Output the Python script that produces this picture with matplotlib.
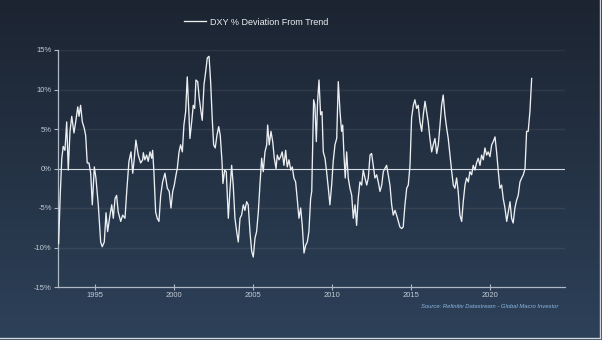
import numpy as np
import matplotlib
matplotlib.use("Agg")
import matplotlib.pyplot as plt
from matplotlib.colors import LinearSegmentedColormap

# DXY % deviation from trend
years = [1992.70, 1992.80, 1992.90, 1992.99, 1993.10, 1993.21, 1993.31, 1993.42, 1993.53, 1993.67,
         1993.78, 1993.91, 1993.99, 1994.09, 1994.20, 1994.32, 1994.41, 1994.51, 1994.62, 1994.73,
         1994.83, 1994.96, 1995.06, 1995.21, 1995.36, 1995.46, 1995.59, 1995.70, 1995.80, 1995.95,
         1996.06, 1996.16, 1996.27, 1996.37, 1996.47, 1996.63, 1996.75, 1996.90, 1997.01, 1997.15,
         1997.28, 1997.39, 1997.49, 1997.59, 1997.74, 1997.89, 1998.02, 1998.06, 1998.16, 1998.27,
         1998.37, 1998.48, 1998.59, 1998.65, 1998.73, 1998.84, 1998.94, 1999.05, 1999.16, 1999.28,
         1999.43, 1999.58, 1999.70, 1999.81, 1999.92, 2000.02, 2000.13, 2000.21, 2000.32, 2000.42,
         2000.53, 2000.63, 2000.74, 2000.84, 2000.95, 2001.01, 2001.12, 2001.22, 2001.31, 2001.39,
         2001.50, 2001.60, 2001.71, 2001.79, 2001.90, 2002.01, 2002.11, 2002.22, 2002.32, 2002.42,
         2002.51, 2002.61, 2002.72, 2002.83, 2002.93, 2003.04, 2003.10, 2003.21, 2003.31, 2003.44,
         2003.54, 2003.65, 2003.75, 2003.86, 2003.97, 2004.07, 2004.18, 2004.28, 2004.39, 2004.49,
         2004.60, 2004.70, 2004.81, 2004.92, 2005.02, 2005.13, 2005.23, 2005.34, 2005.44, 2005.55,
         2005.65, 2005.76, 2005.87, 2005.93, 2006.03, 2006.14, 2006.25, 2006.35, 2006.46, 2006.54,
         2006.65, 2006.75, 2006.85, 2006.96, 2007.07, 2007.17, 2007.28, 2007.39, 2007.49, 2007.59,
         2007.70, 2007.80, 2007.91, 2008.02, 2008.12, 2008.23, 2008.34, 2008.44, 2008.54, 2008.65,
         2008.72, 2008.78, 2008.84, 2008.92, 2009.01, 2009.09, 2009.18, 2009.28, 2009.37, 2009.45,
         2009.56, 2009.66, 2009.77, 2009.87, 2009.98, 2010.08, 2010.19, 2010.30, 2010.40, 2010.51,
         2010.61, 2010.68, 2010.76, 2010.84, 2010.93, 2011.03, 2011.14, 2011.25, 2011.35, 2011.46,
         2011.56, 2011.66, 2011.77, 2011.88, 2011.98, 2012.09, 2012.20, 2012.30, 2012.41, 2012.51,
         2012.61, 2012.72, 2012.83, 2012.93, 2013.04, 2013.15, 2013.25, 2013.35, 2013.46, 2013.56,
         2013.67, 2013.78, 2013.88, 2013.99, 2014.09, 2014.20, 2014.30, 2014.41, 2014.51, 2014.62,
         2014.73, 2014.83, 2014.94, 2015.04, 2015.15, 2015.25, 2015.36, 2015.46, 2015.57, 2015.68,
         2015.78, 2015.89, 2015.99, 2016.09, 2016.20, 2016.31, 2016.41, 2016.52, 2016.63, 2016.73,
         2016.84, 2016.94, 2017.04, 2017.15, 2017.26, 2017.36, 2017.47, 2017.58, 2017.68, 2017.78,
         2017.89, 2017.99, 2018.10, 2018.21, 2018.31, 2018.42, 2018.52, 2018.63, 2018.73, 2018.84,
         2018.94, 2019.05, 2019.15, 2019.26, 2019.37, 2019.47, 2019.58, 2019.68, 2019.79, 2019.89,
         2020.00, 2020.11, 2020.21, 2020.32, 2020.42, 2020.53, 2020.63, 2020.74, 2020.84, 2020.95,
         2021.06, 2021.16, 2021.27, 2021.37, 2021.47, 2021.58, 2021.69, 2021.79, 2021.90, 2022.01,
         2022.11, 2022.22, 2022.32, 2022.42, 2022.53, 2022.64]

deviation = [-9.5, -3.4, 1.3, 2.8, 2.3, 5.9, -0.2, 4.7, 6.6, 4.5,
             5.9, 7.8, 6.6, 8.0, 5.9, 5.1, 4.2, 0.7, 0.7, -0.6,
             -4.6, 0.2, -1.2, -4.6, -9.3, -9.9, -9.3, -5.6, -8.0, -5.9,
             -4.6, -6.3, -3.8, -3.4, -5.5, -6.7, -5.9, -6.3, -2.9, 0.9,
             2.1, -0.6, 1.3, 3.6, 1.7, 0.7, 1.1, 2.0, 1.1, 1.7,
             0.9, 2.1, 1.3, 2.3, -0.4, -5.5, -6.3, -6.7, -3.4, -1.7,
             -0.6, -2.5, -2.9, -5.0, -2.9, -2.1, -0.8, 0.0, 2.1, 3.0,
             2.1, 5.5, 7.2, 11.6, 6.8, 3.8, 5.9, 8.0, 7.6, 11.2,
             11.0, 8.9, 7.2, 6.1, 10.6, 12.3, 14.0, 14.2, 11.0, 6.4,
             3.0, 2.6, 4.2, 5.3, 4.2, 0.9, -1.9, -0.2, -0.4, -6.3,
             -2.9, 0.4, -2.1, -6.3, -8.0, -9.3, -6.3, -5.9, -4.6, -5.3,
             -4.2, -4.6, -8.0, -10.5, -11.2, -8.8, -8.0, -5.5, -2.1, 1.3,
             -0.4, 2.1, 3.0, 5.5, 3.0, 4.7, 3.4, 1.3, 0.0, 1.7,
             1.1, 1.5, 2.1, 0.4, 2.3, 0.2, 1.1, -0.2, 0.2, -1.2,
             -1.7, -3.8, -6.3, -5.0, -7.2, -10.7, -9.7, -9.3, -8.0, -3.8,
             -2.9, 3.0, 8.7, 8.0, 3.4, 8.5, 11.2, 6.8, 7.2, 2.1,
             1.3, -0.4, -2.5, -4.6, -2.1, 0.9, 3.0, 3.8, 11.0, 7.2,
             4.7, 5.5, 1.7, -1.2, 2.1, -1.2, -2.5, -3.4, -6.3, -4.6,
             -7.2, -3.8, -1.7, -2.1, -0.2, -1.2, -2.1, -1.2, 1.7, 1.9,
             0.4, -1.2, -0.8, -1.7, -2.9, -2.1, -0.4, 0.0, 0.4, -0.8,
             -2.1, -4.6, -5.9, -5.3, -5.9, -6.7, -7.4, -7.6, -7.4, -4.6,
             -2.5, -2.1, 0.4, 6.4, 8.0, 8.7, 7.6, 8.0, 5.9, 4.7,
             6.8, 8.5, 7.2, 5.9, 3.8, 2.1, 3.0, 3.8, 1.9, 3.0,
             5.5, 8.0, 9.3, 6.8, 5.1, 3.8, 1.7, -0.4, -2.1, -2.5,
             -1.2, -2.9, -5.9, -6.7, -4.2, -2.1, -1.2, -1.7, -0.4, -0.8,
             0.4, -0.2, 0.7, 1.3, 0.4, 1.7, 1.1, 2.6, 1.7, 2.1,
             1.5, 3.0, 3.4, 4.0, 2.1, -0.4, -2.5, -2.1, -3.8, -5.0,
             -6.7, -5.5, -4.2, -6.3, -6.9, -5.0, -4.0, -3.4, -1.7, -1.2,
             -0.8, 0.0, 4.7, 4.7, 7.2, 11.4]

year_ticks = [1995, 2000, 2005, 2010, 2015, 2020]
pct_ticks = [-15, -10, -5, 0, 5, 10, 15]

label_color = "#c3cbd5"
axis_color = "#aeb8c4"

plt.rcParams["font.family"] = ["Liberation Sans", "DejaVu Sans"]

fig = plt.figure(figsize=(6.02, 3.40), dpi=100)

# background gradient, dark navy at the top to a lighter slate blue at the bottom
bg = fig.add_axes([0, 0, 1, 1], zorder=-10)
cmap = LinearSegmentedColormap.from_list("bg", ["#1c2431", "#2d4159"])
bg.imshow(np.linspace(0, 1, 256).reshape(-1, 1), aspect="auto", cmap=cmap,
          extent=[0, 1, 0, 1])
bg.plot([0, 0.996], [0.006, 0.006], color="#d0d6dc", lw=1.0)
bg.plot([0.996, 0.996], [0.006, 1], color="#d0d6dc", lw=1.0)
bg.set_xlim(0, 1)
bg.set_ylim(0, 1)
bg.axis("off")

ax = fig.add_axes([58 / 602, 1 - 287 / 340, (565 - 58) / 602, (287 - 50) / 340])
ax.patch.set_alpha(0)

for v in pct_ticks:
    if v not in (0, -15):
        ax.axhline(v, color="#ffffff", alpha=0.07, lw=1.0, zorder=1)
ax.axhline(0, color="#d5dbe2", lw=0.8, zorder=2)

line, = ax.plot(years, deviation, color="#eceff2", lw=0.95, zorder=3,
                label="DXY % Deviation From Trend")

ax.set_xlim(1992.66, 2024.75)
ax.set_ylim(-15, 15)
ax.set_xticks(year_ticks)
ax.set_xticklabels([str(y) for y in year_ticks])
ax.set_yticks(pct_ticks)
ax.set_yticklabels([f"{v}%" for v in pct_ticks])

for side in ("top", "right"):
    ax.spines[side].set_visible(False)
for side in ("left", "bottom"):
    ax.spines[side].set_color(axis_color)
    ax.spines[side].set_linewidth(0.9)

ax.tick_params(axis="x", direction="inout", length=4, width=0.8, color=axis_color,
               labelsize=5.5, labelcolor=label_color, pad=1.5)
ax.tick_params(axis="y", direction="out", length=3, width=0.8, color=axis_color,
               labelsize=5.5, labelcolor=label_color, pad=1.5)

fig.legend(handles=[line], loc="center", bbox_to_anchor=(0.426, 0.935),
           frameon=False, fontsize=6.5, labelcolor="#eceff2",
           handlelength=2.4, handletextpad=0.5)

fig.text(558 / 602, 1 - 307 / 340, "Source: Refinitiv Datastream - Global Macro Investor",
         ha="right", va="center", fontsize=4.2, style="italic", color="#8db8e6")

fig.savefig("out.png", dpi=100)
